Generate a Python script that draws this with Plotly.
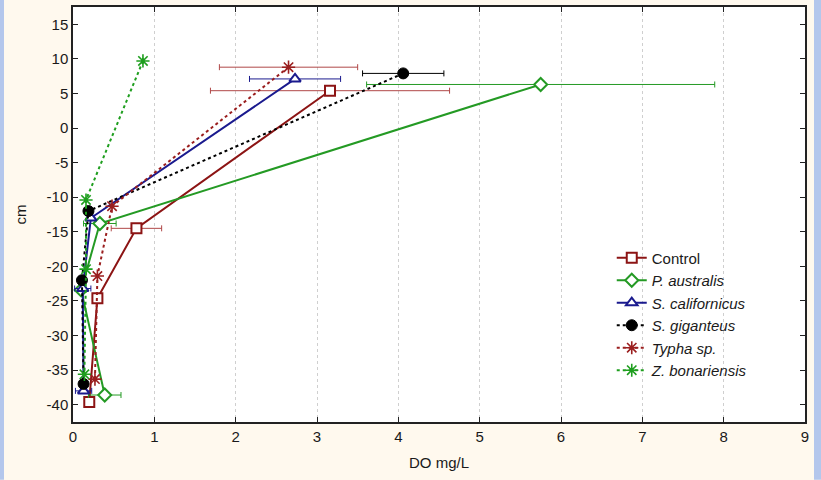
import plotly.graph_objects as go

# Dissolved oxygen profiles (DO mg/L) against depth (cm) for each treatment
series_names = ["Control", "<i>P. australis</i>", "<i>S. californicus</i>",
                "<i>S. giganteus</i>", "<i>Typha sp.</i>", "<i>Z. bonariensis</i>"]

control_do = [3.16, 0.78, 0.30, 0.20]
control_cm = [5.4, -14.5, -24.6, -39.6]
control_err = [1.47, 0.31, None, None]

paustralis_do = [5.75, 0.33, 0.10, 0.39]
paustralis_cm = [6.3, -13.8, -23.4, -38.6]
paustralis_err = [2.14, 0.20, None, 0.20]

scalifornicus_do = [2.73, 0.22, 0.12, 0.13]
scalifornicus_cm = [7.1, -13.0, -23.2, -38.0]
scalifornicus_err = [0.56, None, 0.10, 0.10]

sgiganteus_do = [4.06, 0.19, 0.11, 0.13]
sgiganteus_cm = [7.9, -12.0, -22.0, -37.0]
sgiganteus_err = [0.50, None, None, None]

typha_do = [2.65, 0.48, 0.30, 0.27]
typha_cm = [8.8, -11.3, -21.4, -36.3]
typha_err = [0.85, None, None, None]

zbonariensis_do = [0.86, 0.16, 0.16, 0.14]
zbonariensis_cm = [9.7, -10.4, -20.4, -35.6]
zbonariensis_err = [None, None, None, None]

x_ticks = list(range(0, 10))
y_ticks = list(range(-40, 20, 5))

DARKRED = "#8c1414"
GREEN = "#249a24"
NAVY = "#1a1a8e"
BLACK = "#000000"
RED2 = "#9a1e1e"
GREEN2 = "#1e9e1e"

styles = [
    dict(x=control_do, y=control_cm, e=control_err, color=DARKRED, ecolor="#b04848",
         dash="solid", symbol="square", size=10, fill="white", lw=2),
    dict(x=paustralis_do, y=paustralis_cm, e=paustralis_err, color=GREEN, ecolor=GREEN,
         dash="solid", symbol="diamond", size=10, fill="white", lw=2),
    dict(x=scalifornicus_do, y=scalifornicus_cm, e=scalifornicus_err, color=NAVY, ecolor=NAVY,
         dash="solid", symbol="triangle-up", size=10, fill="white", lw=2),
    dict(x=sgiganteus_do, y=sgiganteus_cm, e=sgiganteus_err, color=BLACK, ecolor=BLACK,
         dash="dot", symbol="circle", size=11, fill=BLACK, lw=1),
    dict(x=typha_do, y=typha_cm, e=typha_err, color=RED2, ecolor="#b04848",
         dash="dot", symbol="asterisk", size=11, fill=RED2, lw=1.6),
    dict(x=zbonariensis_do, y=zbonariensis_cm, e=zbonariensis_err, color=GREEN2, ecolor=GREEN2,
         dash="dot", symbol="asterisk", size=11, fill=GREEN2, lw=1.6),
]

fig = go.Figure()
for name, s in zip(series_names, styles):
    fig.add_trace(go.Scatter(
        x=s["x"], y=s["y"], name=name, mode="lines+markers",
        line=dict(color=s["color"], width=2, dash=s["dash"]),
        marker=dict(symbol=s["symbol"], size=s["size"], color=s["fill"],
                    line=dict(color=s["color"], width=s["lw"])),
        error_x=dict(type="data", array=s["e"], visible=True,
                     color=s["ecolor"], thickness=1, width=3),
    ))

TICKFONT = dict(family="Liberation Sans Narrow, Arial Narrow, Liberation Sans, Arial, sans-serif",
                size=15, color="#1a1a1a")

fig.update_xaxes(
    range=[0, 9], tickvals=x_ticks, ticktext=[str(v) for v in x_ticks],
    ticks="inside", ticklen=5, tickcolor="#222", mirror="ticks",
    showline=True, linecolor="#222", linewidth=1.5,
    showgrid=True, gridcolor="#cfcfcf", griddash="dot", gridwidth=1,
    zeroline=False, tickfont=TICKFONT,
    title=dict(text="DO mg/L", font=dict(family=TICKFONT["family"], size=15, color="#1a1a1a"),
               standoff=14),
)
fig.update_yaxes(
    range=[-42.5, 17.5], tickvals=y_ticks, ticktext=[str(v) for v in y_ticks],
    ticks="inside", ticklen=5, tickcolor="#222", mirror="ticks",
    showline=True, linecolor="#222", linewidth=1.5,
    showgrid=False, zeroline=False, tickfont=TICKFONT,
    title=dict(text="cm", font=dict(family=TICKFONT["family"], size=15, color="#1a1a1a"),
               standoff=16),
)

# pale blue side strips of the frame
for x0, x1 in [(-73 / 732, -69 / 732), (741 / 732, 748 / 732)]:
    fig.add_shape(type="rect", xref="paper", yref="paper", x0=x0, x1=x1, y0=-58 / 417,
                  y1=480 / 417, fillcolor="#b4c7ec", line=dict(width=0), layer="below")

fig.update_layout(
    width=821, height=480,
    margin=dict(l=73, r=16, t=5, b=58),
    paper_bgcolor="#fff9ee", plot_bgcolor="white",
    showlegend=True,
    legend=dict(x=0.736, y=0.435, xanchor="left", yanchor="top",
                bgcolor="rgba(0,0,0,0)", borderwidth=0,
                font=dict(family="Liberation Sans, Arial, sans-serif", size=15, color="#1a1a1a"),
                tracegroupgap=0),
)

fig.write_html("out.html")
